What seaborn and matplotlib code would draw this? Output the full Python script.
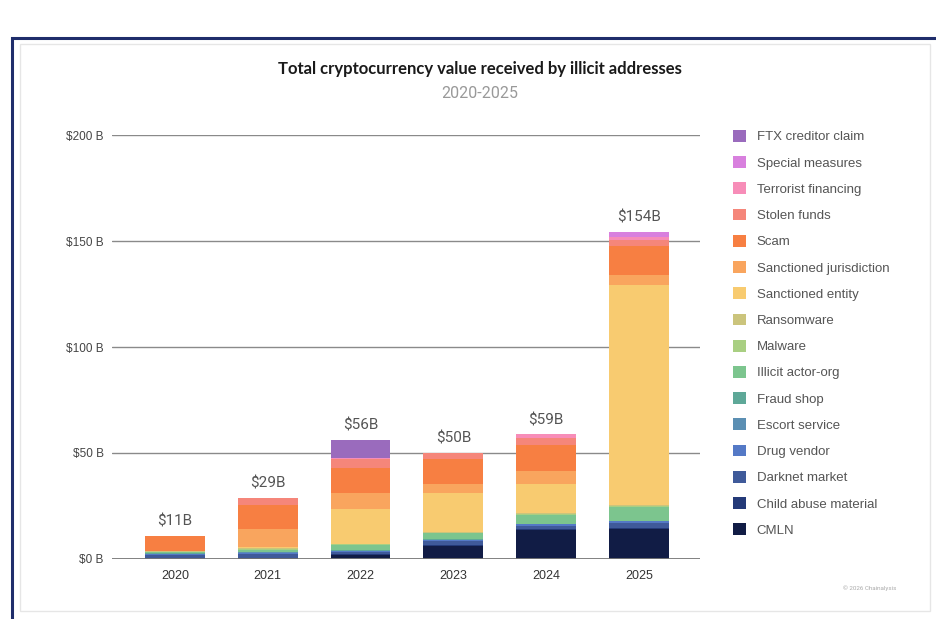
import numpy as np
import pandas as pd
import matplotlib
matplotlib.use("Agg")
import matplotlib.pyplot as plt
from matplotlib.patches import Patch, Rectangle
import seaborn as sns

years = ['2020', '2021', '2022', '2023', '2024', '2025']

categories = ['FTX creditor claim', 'Special measures', 'Terrorist financing', 'Stolen funds',
              'Scam', 'Sanctioned jurisdiction', 'Sanctioned entity', 'Ransomware', 'Malware',
              'Illicit actor-org', 'Fraud shop', 'Escort service', 'Drug vendor',
              'Darknet market', 'Child abuse material', 'CMLN']

ftx        = [0.0, 0.0, 8.8, 0.0, 0.0, 0.0]
special    = [0.0, 0.0, 0.0, 0.0, 0.0, 2.7]
terrorist  = [0.0, 0.0, 0.3, 0.4, 2.0, 1.0]
stolen     = [0.0, 3.5, 4.2, 2.5, 3.0, 3.0]
scam       = [7.0, 11.3, 11.8, 12.1, 12.6, 13.8]
sanc_jur   = [0.0, 8.5, 7.5, 4.2, 6.0, 4.6]
sanc_ent   = [0.0, 0.3, 16.4, 18.2, 13.7, 104.0]
ransomware = [0.6, 0.5, 0.3, 0.5, 0.5, 0.4]
malware    = [0.3, 0.4, 0.2, 0.2, 0.2, 0.2]
illicit    = [0.5, 1.0, 2.6, 2.9, 4.2, 6.6]
fraud      = [0.3, 0.3, 0.2, 0.2, 0.2, 0.2]
escort     = [0.1, 0.1, 0.1, 0.1, 0.1, 0.1]
drug       = [0.3, 0.5, 0.5, 0.6, 0.6, 0.6]
darknet    = [1.7, 2.1, 1.2, 1.5, 1.6, 2.5]
child      = [0.1, 0.1, 0.3, 0.5, 0.4, 0.5]
cmln       = [0.1, 0.3, 1.9, 6.3, 13.8, 14.2]

series = [ftx, special, terrorist, stolen, scam, sanc_jur, sanc_ent, ransomware, malware,
          illicit, fraud, escort, drug, darknet, child, cmln]

colors = ['#9a6bbd', '#d880de', '#f78db8', '#f5867a', '#f77f42', '#f9a55e', '#f8cb70',
          '#cbc47c', '#a9cf82', '#7cc58e', '#5ea898', '#5b8fb3', '#5479c6', '#3f5a9a',
          '#243a78', '#111c45']

ytick_vals = [0, 50, 100, 150, 200]
ytick_labels = ['$0 B', '$50 B', '$100 B', '$150 B', '$200 B']

df = pd.DataFrame({c: s for c, s in zip(categories, series)}, index=years)
totals = df.sum(axis=1)
cum = df[categories[::-1]].cumsum(axis=1)

sns.set_theme(style="white")
plt.rcParams['font.family'] = ['Roboto', 'DejaVu Sans']

fig = plt.figure(figsize=(9.36, 6.19), dpi=100)
fig.patch.set_facecolor('white')

W, H = 936, 619
ax = fig.add_axes([112 / W, 1 - 559 / H, (700 - 112) / W, (559 - 135) / H])

for cat, col in zip(categories, colors):
    d = pd.DataFrame({'year': years, 'value': cum[cat].values})
    sns.barplot(data=d, x='year', y='value', color=col, saturation=1, width=0.645,
                errorbar=None, ax=ax, order=years, zorder=3, linewidth=0)

ax.set_xlim(-0.677, 5.656)
ax.set_ylim(0, 200)
ax.set_yticks(ytick_vals)
ax.set_yticklabels(ytick_labels)
ax.set_xlabel('')
ax.set_ylabel('')
for s in ax.spines.values():
    s.set_visible(False)
for v in ytick_vals[1:]:
    ax.axhline(v, color='#8a8a8a', lw=1.0, zorder=1)
ax.axhline(0, color='#777777', lw=1.3, zorder=4)
ax.tick_params(axis='y', length=0, pad=6, labelsize=8.5, labelcolor='#444444')
ax.tick_params(axis='x', length=0, pad=8, labelsize=9, labelcolor='#333333')
for lab in ax.get_yticklabels() + ax.get_xticklabels():
    lab.set_family(['Liberation Sans', 'DejaVu Sans'])

for i, y in enumerate(years):
    ax.annotate(f"${totals[y]:.0f}B", (i, totals[y]), xytext=(0, 5), textcoords='offset points',
                ha='center', va='bottom', fontsize=11, color='#555555')

fig.text(480 / W, 1 - 69 / H, 'Total cryptocurrency value received by illicit addresses',
         ha='center', va='center', fontsize=12, fontweight='bold', color='#1a1a1a',
         family=['Lato', 'DejaVu Sans'])
fig.text(480 / W, 1 - 94 / H, '2020-2025', ha='center', va='center', fontsize=11.5,
         color='#999999')

handles = [Patch(facecolor=c, edgecolor='none') for c in colors]
leg = fig.legend(handles, categories, loc='upper left', bbox_to_anchor=(733 / W, 1 - 130 / H),
                 frameon=False, fontsize=9.5, handlelength=1.0, handleheight=1.0,
                 handletextpad=0.8, labelspacing=0.97, borderaxespad=0, borderpad=0)
for t in leg.get_texts():
    t.set_color('#555555')
    t.set_family(['Liberation Sans', 'DejaVu Sans'])

fig.text(870 / W, 1 - 588 / H, '© 2026 Chainalysis', ha='center', va='center',
         fontsize=4.5, color='#aaaaaa')

fig.patches.append(Rectangle((12 / W, -0.05), 1.0, 1 - 38 / H + 0.05, transform=fig.transFigure,
                             fill=False, edgecolor='#1f2d6b', lw=2.2))
fig.patches.append(Rectangle((20 / W, 8 / H), 910 / W, (612 - 45) / H, transform=fig.transFigure,
                             fill=False, edgecolor='#e6e6e6', lw=1.0))

fig.savefig('out.png', dpi=100, facecolor='white')
